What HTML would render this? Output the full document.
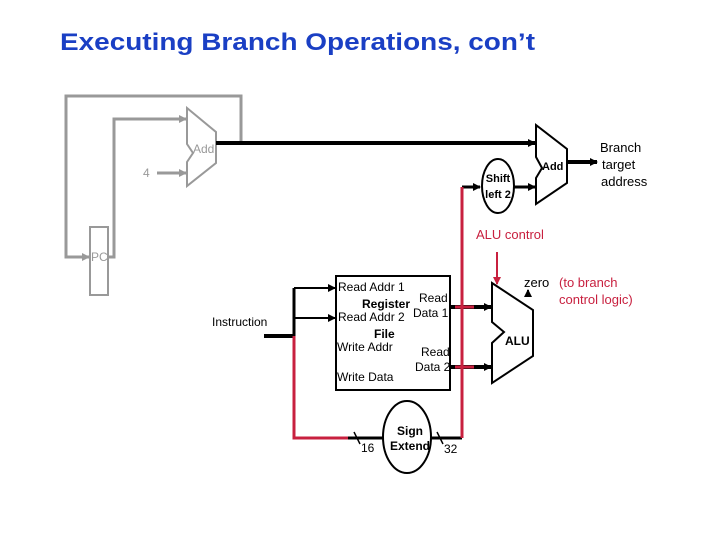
<!DOCTYPE html>
<html><head><meta charset="utf-8"><style>
html,body{margin:0;padding:0;background:#fff;}
svg{display:block;font-family:"Liberation Sans",sans-serif;}
</style></head><body>
<svg width="720" height="540" viewBox="0 0 720 540" xmlns="http://www.w3.org/2000/svg">
<defs>
<marker id="ab" markerWidth="8" markerHeight="8" refX="7" refY="4" orient="auto" markerUnits="userSpaceOnUse"><path d="M0,0 L8,4 L0,8 z" fill="#000"/></marker>
<marker id="ag" markerWidth="8" markerHeight="8" refX="7" refY="4" orient="auto" markerUnits="userSpaceOnUse"><path d="M0,0 L8,4 L0,8 z" fill="#999"/></marker>
<marker id="ar" markerWidth="8" markerHeight="8" refX="7" refY="4" orient="auto" markerUnits="userSpaceOnUse"><path d="M0,0 L8,4 L0,8 z" fill="#c8203f"/></marker>
</defs>
<text x="60" y="50" font-size="24" font-weight="bold" fill="#1a3fc4" textLength="475" lengthAdjust="spacingAndGlyphs">Executing Branch Operations, con’t</text>

<!-- gray PC loop -->
<polyline points="241,143 241,96 66,96 66,257 89,257" fill="none" stroke="#999" stroke-width="3" marker-end="url(#ag)"/>
<rect x="90" y="227" width="18" height="68" fill="#fff" stroke="#999" stroke-width="2"/>
<text x="91" y="261" font-size="12" fill="#999">PC</text>
<polyline points="108,257 114,257 114,119 186,119" fill="none" stroke="#999" stroke-width="3" marker-end="url(#ag)"/>
<line x1="157" y1="173" x2="186" y2="173" stroke="#999" stroke-width="3" marker-end="url(#ag)"/>
<text x="143" y="177" font-size="12" fill="#999">4</text>
<polygon points="187,108 216,132 216,163 187,186 187,162 193,153 187,144" fill="#fff" stroke="#999" stroke-width="2"/>
<text x="193" y="153" font-size="12" fill="#999">Add</text>

<!-- add output to branch adder -->
<line x1="216" y1="143" x2="535" y2="143" stroke="#000" stroke-width="4" marker-end="url(#ab)"/>
<polygon points="536,125 567,149 567,183 536,204 536,178 542,168 536,157" fill="#fff" stroke="#000" stroke-width="2"/>
<text x="542" y="170" font-size="11" font-weight="bold">Add</text>
<line x1="567" y1="162" x2="597" y2="162" stroke="#000" stroke-width="4" marker-end="url(#ab)"/>
<text x="600" y="152" font-size="13">Branch</text>
<text x="602" y="169" font-size="13">target</text>
<text x="601" y="186" font-size="13">address</text>

<!-- shift left 2 -->
<line x1="462" y1="187" x2="480" y2="187" stroke="#000" stroke-width="3" marker-end="url(#ab)"/>
<ellipse cx="498" cy="186" rx="16" ry="27" fill="#fff" stroke="#000" stroke-width="2"/>
<text x="498" y="182" font-size="11" font-weight="bold" text-anchor="middle">Shift</text>
<text x="498" y="198" font-size="11" font-weight="bold" text-anchor="middle">left 2</text>
<line x1="514" y1="187" x2="535" y2="187" stroke="#000" stroke-width="3" marker-end="url(#ab)"/>

<!-- ALU control -->
<text x="476" y="239" font-size="13" fill="#c8203f">ALU control</text>
<line x1="497" y1="252" x2="497" y2="284" stroke="#c8203f" stroke-width="2" marker-end="url(#ar)"/>

<!-- instruction wiring -->
<line x1="264" y1="336" x2="294" y2="336" stroke="#000" stroke-width="4"/>
<text x="212" y="326" font-size="12">Instruction</text>
<line x1="294" y1="288" x2="294" y2="336" stroke="#000" stroke-width="3"/>
<line x1="294" y1="288" x2="335" y2="288" stroke="#000" stroke-width="2" marker-end="url(#ab)"/>
<line x1="294" y1="318" x2="335" y2="318" stroke="#000" stroke-width="2" marker-end="url(#ab)"/>
<polyline points="294,336 294,438 348,438" fill="none" stroke="#c8203f" stroke-width="3"/>
<line x1="348" y1="438" x2="384" y2="438" stroke="#000" stroke-width="3"/>
<line x1="354" y1="432" x2="360" y2="444" stroke="#000" stroke-width="1.5"/>
<text x="361" y="452" font-size="12">16</text>

<!-- sign extend -->
<ellipse cx="407" cy="437" rx="24" ry="36" fill="#fff" stroke="#000" stroke-width="2"/>
<text x="410" y="435" font-size="12" font-weight="bold" text-anchor="middle">Sign</text>
<text x="410" y="450" font-size="12" font-weight="bold" text-anchor="middle">Extend</text>
<line x1="431" y1="438" x2="462" y2="438" stroke="#000" stroke-width="3"/>
<line x1="437" y1="432" x2="443" y2="444" stroke="#000" stroke-width="1.5"/>
<text x="444" y="453" font-size="12">32</text>
<line x1="462" y1="438" x2="462" y2="187" stroke="#c8203f" stroke-width="3"/>

<!-- register file -->
<rect x="336" y="276" width="114" height="114" fill="#fff" stroke="#000" stroke-width="2"/>
<text x="338" y="291" font-size="12">Read Addr 1</text>
<text x="362" y="308" font-size="12" font-weight="bold">Register</text>
<text x="419" y="302" font-size="12">Read</text>
<text x="338" y="321" font-size="12">Read Addr 2</text>
<text x="413" y="317" font-size="12">Data 1</text>
<text x="374" y="338" font-size="12" font-weight="bold">File</text>
<text x="337" y="351" font-size="12">Write Addr</text>
<text x="421" y="356" font-size="12">Read</text>
<text x="415" y="371" font-size="12">Data 2</text>
<text x="337" y="381" font-size="12">Write Data</text>

<!-- data to ALU -->
<line x1="450" y1="307" x2="491" y2="307" stroke="#000" stroke-width="4" marker-end="url(#ab)"/>
<line x1="450" y1="367" x2="491" y2="367" stroke="#000" stroke-width="4" marker-end="url(#ab)"/>
<line x1="455" y1="307" x2="474" y2="307" stroke="#c8203f" stroke-width="3"/>
<line x1="455" y1="367" x2="474" y2="367" stroke="#c8203f" stroke-width="3"/>
<line x1="462" y1="300" x2="462" y2="375" stroke="#c8203f" stroke-width="3"/>

<!-- ALU -->
<polygon points="492,283 533,310 533,356 492,383 492,343 504,332 492,322" fill="#fff" stroke="#000" stroke-width="2"/>
<text x="505" y="345" font-size="12" font-weight="bold">ALU</text>
<line x1="528" y1="297" x2="528" y2="290" stroke="#000" stroke-width="2" marker-end="url(#ab)"/>
<text x="524" y="287" font-size="13">zero</text>
<text x="559" y="287" font-size="13" fill="#c8203f">(to branch</text>
<text x="559" y="304" font-size="13" fill="#c8203f">control logic)</text>
</svg>
</body></html>
